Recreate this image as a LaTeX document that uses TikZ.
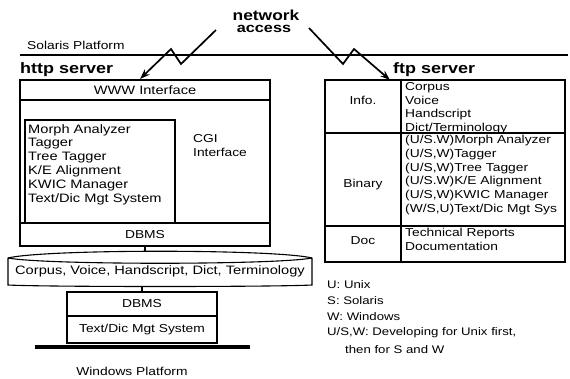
\documentclass[tikz,border=0pt]{standalone}
\usepackage{fontspec}
\setmainfont[FakeStretch=1.2]{Liberation Sans}
\usetikzlibrary{arrows.meta,calc}

\begin{document}
\begin{tikzpicture}[x=1pt,y=-1pt,
  box/.style={draw, line width=1.1pt, inner sep=0pt, outer sep=0pt, anchor=north west},
  txt/.style={inner sep=0pt, font=\fontsize{11.5}{13.8}\selectfont},
  bigtxt/.style={inner sep=0pt, font=\fontsize{12.2}{13.8}\selectfont},
  list/.style={txt, align=left, anchor=north west},
  biglist/.style={bigtxt, align=left, anchor=north west},
  legendtxt/.style={inner sep=0pt, anchor=west, font=\fontsize{11}{13}\selectfont},
  head/.style={inner sep=0pt, font=\fontsize{15}{16}\selectfont\bfseries},
  platform/.style={line width=2.8pt},
  conn/.style={line width=1.1pt},
  bolt/.style={line width=1.7pt, line join=miter, -{Stealth[length=10pt,width=7pt]}},
]
\useasboundingbox (0,0) rectangle (570,379);

% network label
\node[inner sep=0pt, font=\fontsize{14.5}{15}\selectfont\bfseries] (netA) at (266,15) {network};
\node[inner sep=0pt, font=\fontsize{13.5}{14}\selectfont\bfseries] (netB) at (264,29) {access};

% Solaris platform
\node[txt, anchor=west] (sol) at (27,45) {Solaris Platform};
\draw[platform] (20,55) -- (568,55);

% server titles
\node[head, anchor=west] (httpT) at (20,70) {http server};
\node[head, anchor=west] (ftpT) at (393,70) {ftp server};

% network access bolts
\coordinate (bL0) at (216,30);
\coordinate (bL1) at (181,64);
\coordinate (bL2) at (171,49);
\coordinate (httpTip) at (140,79);
\draw[bolt] (bL0) -- (bL1) -- (bL2) -- (httpTip);
\coordinate (bR0) at (309,28);
\coordinate (bR1) at (343,64);
\coordinate (bR2) at (354,49);
\coordinate (ftpTip) at (390,80);
\draw[bolt] (bR0) -- (bR1) -- (bR2) -- (ftpTip);

% http server block
\node[box, minimum width=250pt, minimum height=166pt] (httpbox) at (20,80) {};
\node[box, minimum width=250pt, minimum height=20pt] (www) at (20,80) {};
\node[bigtxt] (wwwT) at (145,90) {WWW Interface};
\node[box, minimum width=150pt, minimum height=103pt] (tools) at (25,120) {};
\node[biglist] (toolsT) at (28,124) {Morph Analyzer\\Tagger\\Tree Tagger\\K/E Alignment\\KWIC Manager\\Text/Dic Mgt System};
\node[list] (cgi) at (193,134) {CGI\\Interface};
\node[box, minimum width=250pt, minimum height=23pt] (dbms) at (20,223) {};
\node[txt] (dbmsT) at (145,235) {DBMS};

% shared data store
\coordinate (storeTop) at (145,252);
\coordinate (storeBot) at (142,286);
\draw[conn] (8,258) .. controls (45,249) and (275,249) .. (312,258);
\draw[conn] (8,258) .. controls (45,265) and (275,265) .. (312,258);
\draw[conn] (8,258) -- (8,285) .. controls (45,287) and (275,287) .. (312,285) -- (312,258);
\node[bigtxt] (store) at (160,271) {Corpus, Voice, Handscript, Dict, Terminology};
\draw[conn] (dbms.south) -- (storeTop);

% windows side
\node[box, minimum width=150pt, minimum height=24pt] (lowdbms) at (67,292) {};
\node[txt] (lowdbmsT) at (142,304) {DBMS};
\node[box, minimum width=150pt, minimum height=27pt] (lowtext) at (67,316) {};
\node[txt] (lowtextT) at (142,329.5) {Text/Dic Mgt System};
\draw[conn] (storeBot) -- (lowdbms.north);
\node[txt] (winlabel) at (132,371) {Windows Platform};

% ftp server table
\node[box, minimum width=240pt, minimum height=182pt] (ftpbox) at (325,80) {};
\node[box, minimum width=76pt, minimum height=53pt] (infoC) at (325,80) {};
\node[box, minimum width=76pt, minimum height=93pt] (binC) at (325,133) {};
\node[box, minimum width=76pt, minimum height=36pt] (docC) at (325,226) {};
\draw[line width=1.1pt] (binC.north east) -- (ftpbox.east |- binC.north);
\draw[line width=1.1pt] (docC.north east) -- (ftpbox.east |- docC.north);
\node[txt] (info) at (363,100) {Info.};
\node[txt] (bin) at (363,185) {Binary};
\node[txt] (doc) at (363,241) {Doc};
\node[list] (infoT) at (405,82) {Corpus\\Voice\\Handscript\\Dict/Terminology};
\node[list] (binT) at (405,135) {(U/S.W)Morph Analyzer\\(U/S,W)Tagger\\(U/S,W)Tree Tagger\\(U/S.W)K/E Alignment\\(U/S,W)KWIC Manager\\(W/S,U)Text/Dic Mgt Sys};
\node[list] (docT) at (405,228) {Technical Reports\\Documentation};

% legend
\node[legendtxt] (lgU) at (327,285) {U: Unix};
\node[legendtxt] (lgS) at (327,301) {S: Solaris};
\node[legendtxt] (lgW) at (327,317) {W: Windows};
\node[legendtxt] (lgD) at (327,333) {U/S,W: Developing for Unix first,};
\node[legendtxt] (lgD2) at (345,350) {then for S and W};

% Windows platform bar
\fill[black] (35,345) rectangle (250,348.5);
\end{tikzpicture}
\end{document}
